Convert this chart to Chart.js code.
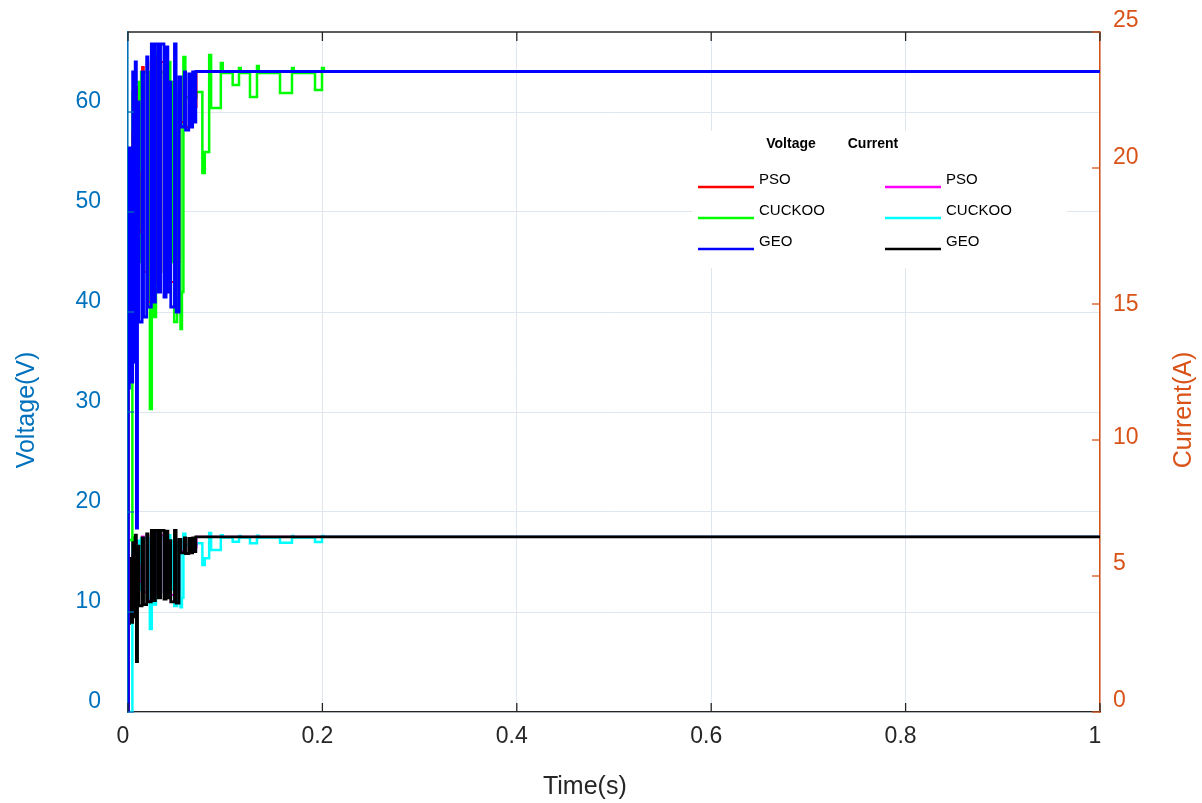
<!DOCTYPE html>
<html>
<head>
<meta charset="utf-8">
<title>Voltage and current - PSO / CUCKOO / GEO</title>
<script src="https://cdn.jsdelivr.net/npm/chart.js@4.4.1/dist/chart.umd.min.js"></script>
<style>
  html, body { margin: 0; padding: 0; background: #fff; }
  #wrap { width: 1202px; height: 803px; position: relative; }
</style>
</head>
<body>
<div id="wrap"><canvas id="chart"></canvas></div>
<script>
// Each series is a step signal: value holds from time[i] until time[i + 1]
const geoTime    = [0, 0.0004, 0.0014, 0.0026, 0.0048, 0.006, 0.0074, 0.0086, 0.0098, 0.0112, 0.0145, 0.016, 0.0192, 0.0205, 0.024, 0.0255, 0.0282, 0.0312, 0.0335, 0.037, 0.0392, 0.041, 0.0422, 0.044, 0.0478, 0.0495, 0.0525, 0.0545, 0.058, 0.0592, 0.0625, 0.0638, 0.0665, 0.0678, 0.0698, 1];
const geoVoltage = [0, 32.4, 56.4, 33, 64, 35, 65, 18.4, 61, 39, 64, 39.5, 65.5, 40.5, 66.8, 41, 66.8, 42, 66.8, 41.5, 66.5, 42, 63, 40.5, 66.8, 40, 63.5, 58.5, 64, 58.2, 63.8, 58.5, 64, 59, 64.05, 64.05];
const geoCurrent = [0, 3.25, 5.65, 3.3, 6.4, 3.5, 6.5, 1.85, 6.1, 3.9, 6.4, 3.95, 6.55, 4.05, 6.68, 4.1, 6.68, 4.2, 6.68, 4.15, 6.65, 4.2, 6.3, 4.05, 6.68, 4.0, 6.35, 5.85, 6.4, 5.82, 6.38, 5.85, 6.4, 5.9, 6.44, 6.44];

const psoTime    = [0, 0.0008, 0.0028, 0.0046, 0.0062, 0.0076, 0.0092, 0.0102, 0.0118, 0.0145, 0.0162, 0.0194, 0.0208, 0.0242, 0.0258, 0.0284, 0.031, 0.0337, 0.0368, 0.0394, 0.0408, 0.0424, 0.0442, 0.048, 0.0493, 0.0527, 0.0547, 0.0582, 0.0594, 0.0627, 0.0641, 0.0667, 0.068, 0.0705, 1];
const psoVoltage = [0, 55.5, 39, 58, 44, 62.5, 47.5, 54, 48, 64.5, 44, 65, 41, 64.5, 43, 65.5, 42, 65, 44, 64, 42, 62.5, 43, 65, 45, 63, 59, 64, 58.5, 63.5, 59, 64, 60.5, 64.05, 64.05];
const psoCurrent = [0, 5.55, 3.9, 5.8, 4.4, 6.25, 4.75, 5.4, 4.8, 6.45, 4.4, 6.5, 4.1, 6.45, 4.3, 6.55, 4.2, 6.5, 4.4, 6.4, 4.2, 6.25, 4.3, 6.5, 4.5, 6.3, 5.9, 6.4, 5.85, 6.35, 5.9, 6.4, 6.05, 6.44, 6.44];

const cuckooTime    = [0, 0.0045, 0.0058, 0.0068, 0.0112, 0.0135, 0.0225, 0.0245, 0.027, 0.0288, 0.0302, 0.034, 0.0375, 0.0405, 0.0435, 0.0455, 0.0475, 0.0505, 0.052, 0.054, 0.0555, 0.057, 0.059, 0.0705, 0.0765, 0.079, 0.0835, 0.0855, 0.0955, 0.0975, 0.1077, 0.1142, 0.116, 0.1255, 0.1327, 0.1345, 0.1564, 0.1687, 0.1705, 0.1924, 0.1996, 0.2015, 1];
const cuckooVoltage = [17.2, 62, 45, 63, 45, 64, 30.3, 62, 39.5, 66, 44, 64, 42, 65, 45, 63, 39, 41.5, 62, 38.3, 42, 65.5, 61.5, 62, 53.9, 56, 65.7, 60.4, 64.9, 63.9, 62.7, 64.4, 63.9, 61.5, 64.6, 63.9, 61.9, 64.4, 63.9, 62.2, 64.4, 64.05, 64.05];
const cuckooCurrent = [0, 6.2, 4.5, 6.3, 4.5, 6.4, 3.05, 6.2, 3.95, 6.6, 4.4, 6.4, 4.2, 6.5, 4.5, 6.3, 3.9, 4.15, 6.2, 3.85, 4.2, 6.55, 6.15, 6.2, 5.4, 5.65, 6.58, 5.96, 6.5, 6.42, 6.26, 6.47, 6.42, 6.2, 6.48, 6.42, 6.22, 6.47, 6.42, 6.25, 6.47, 6.44, 6.44];

const algorithms = ['PSO', 'CUCKOO', 'GEO'];
const legendHeaders = ['Voltage', 'Current'];
const voltageColors = ['#ff0000', '#00ff00', '#0000ff'];
const currentColors = ['#ff00ff', '#00ffff', '#000000'];

// the current labels in the original sit a little off their ticks
const currentLabelShift = [-11, -12, -2, 1, -10, -11];

const FONT = '"Liberation Sans", Arial, Helvetica, sans-serif';
const AXIS_BLUE = '#0072bd';
const AXIS_ORANGE = '#d95319';
const DARK = '#262626';
const GRID = '#dfe6ed';

const toPoints = (t, v) => t.map((x, i) => ({ x, y: v[i] }));

// drawing order: lower "order" ends up on top
const datasets = [
    { label: 'GEO V', data: toPoints(geoTime, geoVoltage), borderColor: voltageColors[2], yAxisID: 'yV', borderWidth: 2.8, order: 0 },
    { label: 'PSO V', data: toPoints(psoTime, psoVoltage), borderColor: voltageColors[0], yAxisID: 'yV', borderWidth: 2, order: 1 },
    { label: 'CUCKOO V', data: toPoints(cuckooTime, cuckooVoltage), borderColor: voltageColors[1], yAxisID: 'yV', borderWidth: 2.5, order: 2 },
    { label: 'GEO I', data: toPoints(geoTime, geoCurrent), borderColor: currentColors[2], yAxisID: 'yI', borderWidth: 2.8, order: 3 },
    { label: 'PSO I', data: toPoints(psoTime, psoCurrent), borderColor: currentColors[0], yAxisID: 'yI', borderWidth: 2, order: 4 },
    { label: 'CUCKOO I', data: toPoints(cuckooTime, cuckooCurrent), borderColor: currentColors[1], yAxisID: 'yI', borderWidth: 2.5, order: 5 }
].map(d => ({ ...d, stepped: true, pointRadius: 0, fill: false, tension: 0 }));

// fixed plot box, label overflow must not push it around
const fixBox = size => s => {
    if (s.isHorizontal()) s.height = size; else s.width = size;
    s.paddingTop = 0;
    s.paddingBottom = 0;
    s.paddingLeft = 0;
    s.paddingRight = 0;
};

// box, inward ticks, current labels and the axis titles
const framePlugin = {
    id: 'frame',
    afterDraw(chart) {
        const { ctx, chartArea: a, scales } = chart;
        ctx.save();

        ctx.strokeStyle = DARK;
        ctx.lineWidth = 1.3;
        ctx.beginPath();
        ctx.moveTo(a.left, a.top);
        ctx.lineTo(a.right, a.top);
        ctx.stroke();

        scales.x.ticks.forEach(t => {
            const px = scales.x.getPixelForValue(t.value);
            ctx.strokeStyle = DARK;
            ctx.beginPath();
            ctx.moveTo(px, a.bottom); ctx.lineTo(px, a.bottom - 9);
            ctx.moveTo(px, a.top); ctx.lineTo(px, a.top + 9);
            ctx.stroke();
        });
        scales.yV.ticks.forEach(t => {
            const py = scales.yV.getPixelForValue(t.value);
            ctx.strokeStyle = AXIS_BLUE;
            ctx.beginPath();
            ctx.moveTo(a.left, py); ctx.lineTo(a.left + 6, py);
            ctx.stroke();
        });

        ctx.font = `23px ${FONT}`;
        ctx.textAlign = 'left';
        ctx.textBaseline = 'middle';
        ctx.fillStyle = AXIS_ORANGE;
        scales.yI.ticks.forEach((t, i) => {
            const py = scales.yI.getPixelForValue(t.value);
            ctx.strokeStyle = AXIS_ORANGE;
            ctx.beginPath();
            ctx.moveTo(a.right, py); ctx.lineTo(a.right - 8, py);
            ctx.stroke();
            ctx.fillText(String(t.value), a.right + 13, py + (currentLabelShift[i] || 0));
        });

        ctx.font = `25px ${FONT}`;
        ctx.textAlign = 'center';
        ctx.fillStyle = DARK;
        ctx.fillText('Time(s)', a.left + a.width * 0.47, 787);

        ctx.save();
        ctx.translate(27, 410);
        ctx.rotate(-Math.PI / 2);
        ctx.fillStyle = AXIS_BLUE;
        ctx.fillText('Voltage(V)', 0, 0);
        ctx.restore();

        ctx.save();
        ctx.translate(1184, 410);
        ctx.rotate(-Math.PI / 2);
        ctx.fillStyle = AXIS_ORANGE;
        ctx.fillText('Current(A)', 0, 0);
        ctx.restore();

        ctx.restore();
    }
};

// two-column legend: voltage lines on the left, current lines on the right
const legendPlugin = {
    id: 'twoColumnLegend',
    afterDraw(chart) {
        const { ctx } = chart;
        const box = { x: 692, y: 131, w: 375, h: 137 };
        ctx.save();
        ctx.fillStyle = '#ffffff';
        ctx.fillRect(box.x, box.y, box.w, box.h);

        ctx.fillStyle = '#000';
        ctx.textBaseline = 'middle';
        ctx.textAlign = 'center';
        ctx.font = `bold 14px ${FONT}`;
        ctx.fillText(legendHeaders[0], 791, 144);
        ctx.fillText(legendHeaders[1], 873, 144);

        ctx.textAlign = 'left';
        ctx.font = `15px ${FONT}`;
        const columns = [
            { lineX: 698, textX: 759, colors: voltageColors },
            { lineX: 885, textX: 946, colors: currentColors }
        ];
        const rowY = [180, 211, 242];
        columns.forEach(col => {
            algorithms.forEach((name, i) => {
                ctx.strokeStyle = col.colors[i];
                ctx.lineWidth = 2.5;
                ctx.beginPath();
                ctx.moveTo(col.lineX, rowY[i] + 7);
                ctx.lineTo(col.lineX + 56, rowY[i] + 7);
                ctx.stroke();
                ctx.fillStyle = '#000';
                ctx.fillText(name, col.textX, rowY[i]);
            });
        });
        ctx.restore();
    }
};

new Chart(document.getElementById('chart'), {
    type: 'line',
    data: { datasets },
    options: {
        responsive: true,
        maintainAspectRatio: false,
        animation: false,
        devicePixelRatio: 1,
        events: [],
        layout: { padding: { top: 32, left: 0, right: 0, bottom: 0 } },
        plugins: { legend: { display: false }, tooltip: { enabled: false } },
        scales: {
            x: {
                type: 'linear',
                min: 0,
                max: 1,
                afterFit: fixBox(91),
                grid: { color: GRID, lineWidth: 1, drawTicks: false },
                border: { color: DARK, width: 1.3 },
                ticks: {
                    stepSize: 0.2,
                    padding: 11,
                    labelOffset: -5,
                    maxRotation: 0,
                    color: DARK,
                    font: { family: FONT, size: 23 },
                    callback: v => String(Math.round(v * 10) / 10)
                }
            },
            yV: {
                type: 'linear',
                position: 'left',
                min: 0,
                max: 68,
                afterFit: fixBox(128),
                grid: { color: GRID, lineWidth: 1, drawTicks: false },
                border: { color: AXIS_BLUE, width: 1.5 },
                ticks: {
                    stepSize: 10,
                    includeBounds: false,
                    padding: 27,
                    labelOffset: -10,
                    color: AXIS_BLUE,
                    font: { family: FONT, size: 23 }
                }
            },
            yI: {
                type: 'linear',
                position: 'right',
                min: 0,
                max: 25,
                afterFit: fixBox(102),
                grid: { drawOnChartArea: false, drawTicks: false },
                border: { color: AXIS_ORANGE, width: 1.5 },
                ticks: { stepSize: 5, display: false }
            }
        }
    },
    plugins: [framePlugin, legendPlugin]
});
</script>
</body>
</html>
